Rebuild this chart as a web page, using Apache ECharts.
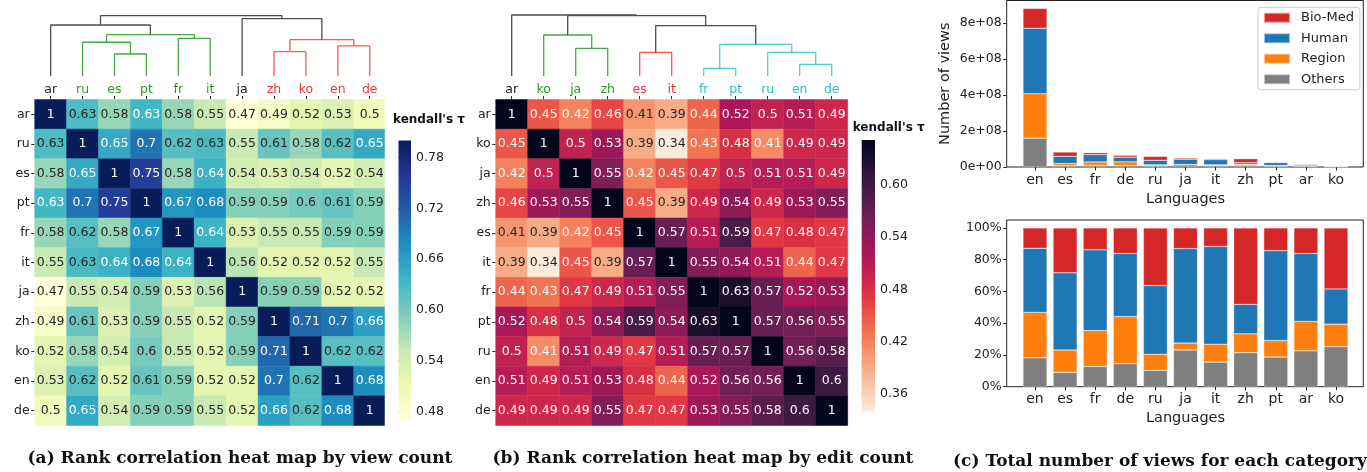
<!DOCTYPE html>
<html><head><meta charset="utf-8">
<script src="https://cdn.jsdelivr.net/npm/echarts@6/dist/echarts.min.js"></script>
<style>html,body{margin:0;padding:0;background:#fff}#c{width:1367px;height:472px}</style>
</head><body><div id="c"></div><script>
// ---------- (a) view-count rank correlation ----------
const langsA = ['ar','ru','es','pt','fr','it','ja','zh','ko','en','de'];
const clusterA = ['k','g','g','g','g','g','k','r','r','r','r'];
const tauViews = [
  [1,0.626,0.58,0.634,0.58,0.55,0.47,0.49,0.52,0.53,0.5],
  [0.626,1,0.65,0.7,0.62,0.627,0.55,0.61,0.58,0.62,0.65],
  [0.58,0.65,1,0.75,0.58,0.64,0.54,0.53,0.54,0.52,0.54],
  [0.634,0.7,0.75,1,0.67,0.68,0.59,0.59,0.6,0.61,0.59],
  [0.58,0.62,0.58,0.67,1,0.64,0.53,0.55,0.55,0.59,0.59],
  [0.55,0.627,0.64,0.68,0.64,1,0.56,0.52,0.52,0.52,0.55],
  [0.47,0.55,0.54,0.59,0.53,0.56,1,0.59,0.59,0.52,0.52],
  [0.49,0.61,0.53,0.59,0.55,0.52,0.59,1,0.71,0.7,0.66],
  [0.52,0.58,0.54,0.6,0.55,0.52,0.59,0.71,1,0.62,0.62],
  [0.53,0.62,0.52,0.61,0.59,0.52,0.52,0.7,0.62,1,0.68],
  [0.5,0.65,0.54,0.59,0.59,0.55,0.52,0.66,0.62,0.68,1]
];
// linkage: [childA, childB, height(0..1 of dendrogram box), cluster colour]; link i creates node 'n'+i
const linkA = [
  ['es','pt',0.333,'g'],
  ['ru','n0',0.511,'g'],
  ['fr','it',0.571,'g'],
  ['n1','n2',0.626,'g'],
  ['ar','n3',0.773,'k'],
  ['zh','ko',0.368,'r'],
  ['en','de',0.455,'r'],
  ['n5','n6',0.55,'r'],
  ['ja','n7',0.868,'k'],
  ['n4','n8',0.914,'k']
];
const cbRangeA = [0.47, 0.80];
const cbTicksA = [0.48,0.54,0.60,0.66,0.72,0.78];

// ---------- (b) edit-count rank correlation ----------
const langsB = ['ar','ko','ja','zh','es','it','fr','pt','ru','en','de'];
const clusterB = ['k','g','g','g','r','r','c','c','c','c','c'];
const tauEdits = [
  [1,0.45,0.42,0.46,0.406,0.39,0.44,0.52,0.5,0.51,0.49],
  [0.45,1,0.5,0.53,0.39,0.34,0.43,0.48,0.414,0.49,0.49],
  [0.42,0.5,1,0.55,0.42,0.45,0.47,0.5,0.51,0.51,0.49],
  [0.46,0.53,0.55,1,0.45,0.39,0.49,0.54,0.49,0.53,0.55],
  [0.406,0.39,0.42,0.45,1,0.57,0.51,0.59,0.47,0.48,0.47],
  [0.39,0.34,0.45,0.39,0.57,1,0.55,0.54,0.51,0.44,0.47],
  [0.44,0.43,0.47,0.49,0.51,0.55,1,0.63,0.57,0.52,0.53],
  [0.52,0.48,0.5,0.54,0.59,0.54,0.63,1,0.57,0.56,0.55],
  [0.5,0.414,0.51,0.49,0.47,0.51,0.57,0.57,1,0.56,0.58],
  [0.51,0.49,0.51,0.53,0.48,0.44,0.52,0.56,0.56,1,0.6],
  [0.49,0.49,0.49,0.55,0.47,0.47,0.53,0.55,0.58,0.6,1]
];
const linkB = [
  ['ja','zh',0.42,'g'],
  ['ko','n0',0.621,'g'],
  ['es','it',0.359,'r'],
  ['fr','pt',0.117,'c'],
  ['en','de',0.177,'c'],
  ['ru','n4',0.359,'c'],
  ['n3','n5',0.48,'c'],
  ['n2','n6',0.762,'k'],
  ['n1','n7',0.914,'k'],
  ['ar','n8',0.924,'k']
];
const cbRangeB = [0.34, 0.651];
const cbTicksB = [0.36,0.42,0.48,0.54,0.60];

// ---------- (c) views per category ----------
const barLangs = ['en','es','fr','de','ru','ja','it','zh','pt','ar','ko'];
const legendOrder = ['Bio-Med','Human','Region','Others'];
const viewsOthers = [160e6, 7.5e6, 10.1e6, 9.4e6, 6.1e6, 11.6e6, 7.1e6, 9.8e6, 5.2e6, 3.8e6, 1.5e6];
const viewsRegion = [247e6, 11.7e6, 17.9e6, 19.3e6, 6.0e6, 2.2e6, 5.2e6, 5.5e6, 2.9e6, 3.1e6, 0.8e6];
const viewsHuman  = [363e6, 40.3e6, 40.1e6, 25.8e6, 25.5e6, 29.7e6, 28.3e6, 8.5e6, 15.9e6, 7.3e6, 1.3e6];
const viewsBioMed = [110e6, 23.5e6, 10.9e6, 10.5e6, 21.4e6, 6.5e6, 5.4e6, 22.2e6, 4.0e6, 2.8e6, 2.2e6];
const viewTicks = [0, 2e8, 4e8, 6e8, 8e8];
const pctOthers = [18.2, 9.0, 12.8, 14.5, 10.3, 23.1, 15.5, 21.4, 18.7, 22.6, 25.2];
const pctRegion = [28.6, 14.1, 22.6, 29.7, 10.2, 4.4, 11.3, 11.9, 10.4, 18.5, 14.2];
const pctHuman  = [40.4, 48.6, 50.8, 39.7, 43.2, 59.5, 61.5, 18.5, 56.6, 42.8, 22.2];
const pctBioMed = [12.8, 28.3, 13.8, 16.1, 36.3, 13.0, 11.7, 48.2, 14.3, 16.1, 38.4];
const pctTicks = [0, 20, 40, 60, 80, 100];

// ---------- styles ----------
const FONT = 'DejaVu Sans';
const YLGNBU = ['#ffffd9','#edf8b1','#c7e9b4','#7fcdbb','#41b6c4','#1d91c0','#225ea8','#253494','#081d58'];
const ROCKET_R = ['#faebdd','#f6b48f','#f37651','#e13342','#ad1759','#701f57','#35193e','#03051a'];
const lineCol = {k:'#4d4d4d', g:'#45a845', r:'#ff5656', c:'#4ccccc'};
const textCol = {k:'#222222', g:'#2a9a2a', r:'#ee3434', c:'#2fbebe'};

const HA = {left:34.7, top:99.5, width:351, height:326};
const HB = {left:495.7, top:99.5, width:352, height:326};
const CROP_A = 384.5;   // panel (a) is slightly cropped on the right in the source figure
const DEN_TOP = 10, DEN_BOTTOM = 76;
const BAR_FRAME = {left:1006.7, right:3.7};
const BAR_INNER = {left:1019.95, width:331.1};
const TOP_BOX = {top:0.5, bottom:305};
const BOT_BOX = {top:220, bottom:85.3};

const fmt2g = v => String(Number(v.toPrecision(2)));

function dendro(leaves, links, axisIdx){
  const pos = {};
  leaves.forEach((l,i)=>pos[l]=[i,0]);
  const s = [];
  links.forEach((lk,i)=>{
    const [a,b,h,c] = lk; const pa = pos[a], pb = pos[b];
    s.push({type:'line', xAxisIndex:axisIdx, yAxisIndex:axisIdx, silent:true, symbol:'none', animation:false,
      lineStyle:{color:lineCol[c], width:1.3}, z:3,
      data:[[pa[0],pa[1]],[pa[0],h],[pb[0],h],[pb[0],pb[1]]]});
    pos['n'+i] = [(pa[0]+pb[0])/2, h];
  });
  return s;
}

function colorbarSeries(axisIdx, range, colors){
  return {type:'custom', xAxisIndex:axisIdx, yAxisIndex:axisIdx, silent:true, animation:false,
    data:[[0, range[0], range[1]]],
    renderItem:(params, api)=>{
      const p0 = api.coord([0, api.value(1)]);
      const p1 = api.coord([1, api.value(2)]);
      const stops = colors.map((c,k)=>({offset:k/(colors.length-1), color:c}));
      return {type:'rect', shape:{x:p0[0], y:p1[1], width:p1[0]-p0[0], height:p0[1]-p1[1]},
        style:{fill:new echarts.graphic.LinearGradient(0,1,0,0,stops)}};
    }};
}

const tickStyle = {show:true, length:3.5, lineStyle:{color:'#333', width:1}};
function heatAxes(langs, cluster, gi){
  return {
    x:{type:'category', gridIndex:gi, data:langs, position:'top', axisLine:{show:false},
       axisTick:Object.assign({alignWithLabel:true}, tickStyle),
       axisLabel:{fontFamily:FONT, fontSize:12.5, margin:3, color:(v,i)=>textCol[cluster[i]]},
       splitLine:{show:false}},
    y:{type:'category', gridIndex:gi, data:langs, inverse:true, axisLine:{show:false},
       axisTick:Object.assign({alignWithLabel:true}, tickStyle),
       axisLabel:{fontFamily:FONT, fontSize:12.5, margin:5, color:'#222'}, splitLine:{show:false}}
  };
}
function denAxes(gi){
  return {
    x:{type:'value', gridIndex:gi, min:-0.5, max:10.5, show:false},
    y:{type:'value', gridIndex:gi, min:0, max:1, show:false}
  };
}
function cbAxes(gi, range, ticks){
  return {
    x:{type:'value', gridIndex:gi, min:0, max:1, show:false},
    y:{type:'value', gridIndex:gi, min:range[0], max:range[1], position:'right',
       axisLine:{show:false}, splitLine:{show:false},
       axisTick:Object.assign({customValues:ticks}, tickStyle),
       axisLabel:{customValues:ticks, fontFamily:FONT, fontSize:12.5, color:'#222', margin:5, formatter:v=>v.toFixed(2)}}
  };
}
const cells = mat => mat.flatMap((row,i)=>row.map((v,j)=>[j,i,v]));
// heat-map cells + annotations (colour from visualMap), optionally cropped on the right
function heatSeries(axisIdx, mat, darkBelow, cropX){
  return {type:'custom', xAxisIndex:axisIdx, yAxisIndex:axisIdx, silent:true, animation:false, clip:false,
    data:cells(mat),
    renderItem:(params, api)=>{
      const v = api.value(2);
      const c = api.coord([api.value(0), api.value(1)]);
      const s = api.size([1,1]);
      const cs = params.coordSys;
      let r = {x:c[0]-s[0]/2, y:c[1]-s[1]/2, width:s[0], height:s[1]};
      const right = cropX != null ? cropX : cs.x + cs.width;
      r = echarts.graphic.clipRectByRect(r, {x:cs.x, y:cs.y, width:right-cs.x, height:cs.height});
      const col = api.visual('color');
      const kids = [];
      if (r) kids.push({type:'rect', shape:r, style:{fill:col, stroke:col, lineWidth:0.5}});
      kids.push({type:'text', x:c[0], y:c[1], z2:10,
        style:{text:fmt2g(v), fill: v < darkBelow ? '#262626' : '#ffffff',
          font:'12.5px "DejaVu Sans"', align:'center', verticalAlign:'middle'}});
      return {type:'group', children:kids};
    }};
}

const hA = heatAxes(langsA, clusterA, 0), dA = denAxes(1), cA = cbAxes(2, cbRangeA, cbTicksA);
const hB = heatAxes(langsB, clusterB, 3), dB = denAxes(4), cB = cbAxes(5, cbRangeB, cbTicksB);

// bar charts: inner grid (categories) + frame grid (value y axis & box)
function barCatX(gi){
  return {type:'category', gridIndex:gi, data:barLangs, axisLine:{show:false},
    axisTick:{show:true, alignWithLabel:true, length:3.5, lineStyle:{color:'#222'}},
    axisLabel:{fontFamily:FONT, fontSize:14, color:'#222', margin:6},
    name:'Languages', nameLocation:'middle', nameGap:25, nameTextStyle:{fontFamily:FONT, fontSize:14.5, color:'#222'}};
}
const hiddenY = (gi, max)=>({type:'value', gridIndex:gi, min:0, max, show:false});
const frameX = (gi)=>({type:'value', gridIndex:gi, min:0, max:1, show:false});
const topMax = 9.24e8, botMax = 105;
const yTop = {type:'value', gridIndex:7, min:0, max:topMax, splitLine:{show:false},
  axisLine:{show:false},
  axisTick:{show:true, length:3.5, customValues:viewTicks, lineStyle:{color:'#222'}},
  axisLabel:{customValues:viewTicks, fontFamily:FONT, fontSize:12.5, color:'#222', margin:5,
    formatter:v=>{ if(v===0) return '0e+00'; const e=Math.floor(Math.log10(v)); return Math.round(v/Math.pow(10,e))+'e+'+String(e).padStart(2,'0'); }},
  name:'Number of views', nameLocation:'middle', nameGap:54, nameTextStyle:{fontFamily:FONT, fontSize:14.5, color:'#222'}};
const yBot = {type:'value', gridIndex:9, min:0, max:botMax, splitLine:{show:false},
  axisLine:{show:false},
  axisTick:{show:true, length:3.5, customValues:pctTicks, lineStyle:{color:'#222'}},
  axisLabel:{customValues:pctTicks, fontFamily:FONT, fontSize:12.5, color:'#222', margin:5, formatter:v=>v+'%'}};

const catColors = {'Bio-Med':'#d62728','Human':'#1f77b4','Region':'#ff7f0e','Others':'#7f7f7f'};
function barSeries(gi, stack, name, vals){
  return {type:'bar', name, xAxisIndex:gi, yAxisIndex:gi, stack, barWidth:24, animation:false,
    itemStyle:{color:catColors[name], borderColor:'rgba(255,255,255,0.55)', borderWidth:0.5},
    data:vals};
}

const series = [
  heatSeries(0, tauViews, 0.632, CROP_A),
  ...dendro(langsA, linkA, 1),
  colorbarSeries(2, cbRangeA, YLGNBU),
  heatSeries(3, tauEdits, 0.41, null),
  ...dendro(langsB, linkB, 4),
  colorbarSeries(5, cbRangeB, ROCKET_R),
  barSeries(6,'v','Others',viewsOthers), barSeries(6,'v','Region',viewsRegion),
  barSeries(6,'v','Human',viewsHuman), barSeries(6,'v','Bio-Med',viewsBioMed),
  barSeries(8,'p','Others',pctOthers), barSeries(8,'p','Region',pctRegion),
  barSeries(8,'p','Human',pctHuman), barSeries(8,'p','Bio-Med',pctBioMed)
];
const heatIdx = [0, series.findIndex((s,i)=>i>0 && s.type==='custom' && s.xAxisIndex===3)];

const frameStyle = {show:true, borderColor:'#222', borderWidth:1, backgroundColor:'transparent'};
const option = {
  animation:false,
  backgroundColor:'#fff',
  grid:[
    {left:HA.left, top:HA.top, width:HA.width, height:HA.height},
    {left:HA.left, top:DEN_TOP, width:HA.width, height:DEN_BOTTOM-DEN_TOP},
    {left:398.5, top:140.5, width:12.5, height:279.5},
    {left:HB.left, top:HB.top, width:HB.width, height:HB.height},
    {left:HB.left, top:DEN_TOP, width:HB.width, height:DEN_BOTTOM-DEN_TOP},
    {left:861.7, top:140, width:13.3, height:271.7},
    Object.assign({left:BAR_INNER.left, width:BAR_INNER.width}, TOP_BOX),
    Object.assign({left:BAR_FRAME.left, right:BAR_FRAME.right}, TOP_BOX, frameStyle),
    Object.assign({left:BAR_INNER.left, width:BAR_INNER.width}, BOT_BOX),
    Object.assign({left:BAR_FRAME.left, right:BAR_FRAME.right}, BOT_BOX, frameStyle)
  ],
  xAxis:[hA.x, dA.x, cA.x, hB.x, dB.x, cB.x, barCatX(6), frameX(7), Object.assign(barCatX(8),{nameGap:24}), frameX(9)],
  yAxis:[hA.y, dA.y, cA.y, hB.y, dB.y, cB.y, hiddenY(6, topMax), yTop, hiddenY(8, botMax), yBot],
  visualMap:[
    {type:'continuous', show:false, seriesIndex:heatIdx[0], dimension:2, min:cbRangeA[0], max:cbRangeA[1], inRange:{color:YLGNBU}},
    {type:'continuous', show:false, seriesIndex:heatIdx[1], dimension:2, min:cbRangeB[0], max:cbRangeB[1], inRange:{color:ROCKET_R}}
  ],
  legend:{data:legendOrder, orient:'vertical', left:1258, top:7.3, itemWidth:26, itemHeight:10, itemGap:7.5,
    icon:'rect', borderColor:'#cccccc', borderWidth:1, borderRadius:3, padding:[4,6,4,5],
    textStyle:{fontFamily:FONT, fontSize:13, color:'#222', padding:[0,0,0,6]}},
  graphic:[
    {type:'text', x:393, y:120, style:{text:"kendall's τ", font:'bold 12px "DejaVu Sans"', fill:'#111', verticalAlign:'middle'}, z:100},
    {type:'text', x:852.7, y:127.5, style:{text:"kendall's τ", font:'bold 12px "DejaVu Sans"', fill:'#111', verticalAlign:'middle'}, z:100},
    {type:'text', x:240, y:459, style:{text:'(a) Rank correlation heat map by view count', font:'bold 17px "DejaVu Serif"', fill:'#111', align:'center', verticalAlign:'middle'}},
    {type:'text', x:703, y:459, style:{text:'(b) Rank correlation heat map by edit count', font:'bold 17px "DejaVu Serif"', fill:'#111', align:'center', verticalAlign:'middle'}},
    {type:'text', x:1160, y:462, style:{text:'(c) Total number of views for each category', font:'bold 17px "DejaVu Serif"', fill:'#111', align:'center', verticalAlign:'middle'}}
  ],
  series
};
const chart = echarts.init(document.getElementById('c'), null, {renderer:'canvas'});
chart.setOption(option);
</script></body></html>
